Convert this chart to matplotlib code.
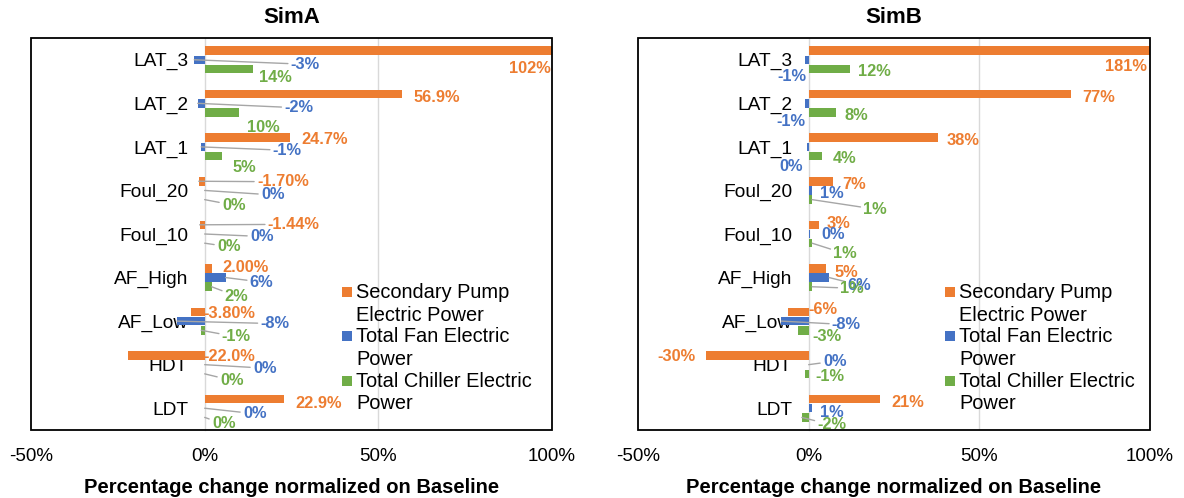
import matplotlib
matplotlib.use("Agg")
import matplotlib.pyplot as plt
from matplotlib.patches import Rectangle
from matplotlib.legend_handler import HandlerBase
import numpy as np

plt.rcParams['font.family'] = ['Liberation Sans', 'DejaVu Sans']

# ---------------- data ----------------
categories = ["LAT_3", "LAT_2", "LAT_1", "Foul_20", "Foul_10",
              "AF_High", "AF_Low", "HDT", "LDT"]
series_names = ["Secondary Pump\nElectric Power",
                "Total Fan Electric\nPower",
                "Total Chiller Electric\nPower"]
x_ticks = [-50, 0, 50, 100]
x_tick_labels = ["-50%", "0%", "50%", "100%"]

simA_pump = [102, 56.9, 24.7, -1.70, -1.44, 2.00, -3.80, -22.0, 22.9]
simA_fan = [-3, -2, -1, 0, 0, 6, -8, 0, 0]
simA_chiller = [14, 10, 5, 0, 0, 2, -1, 0, 0]
simA_pump_labels = ["102%", "56.9%", "24.7%", "-1.70%", "-1.44%",
                    "2.00%", "-3.80%", "-22.0%", "22.9%"]
simA_fan_labels = ["-3%", "-2%", "-1%", "0%", "0%", "6%", "-8%", "0%", "0%"]
simA_chiller_labels = ["14%", "10%", "5%", "0%", "0%", "2%", "-1%", "0%", "0%"]

simB_pump = [181, 77, 38, 7, 3, 5, -6, -30, 21]
simB_fan = [-1, -1, -0.4, 1, 0.3, 6, -8, 0, 1]
simB_chiller = [12, 8, 4, 1, 1, 1, -3, -1, -2]
simB_pump_labels = ["181%", "77%", "38%", "7%", "3%", "5%", "-6%", "-30%", "21%"]
simB_fan_labels = ["-1%", "-1%", "0%", "1%", "0%", "6%", "-8%", "0%", "1%"]
simB_chiller_labels = ["12%", "8%", "4%", "1%", "1%", "1%", "-3%", "-1%", "-2%"]

# ---------------- label placement (pixel offsets from bar end, +dy = down) ----------------
simA_offsets = [
    [(-22, 16), (34, 2), (34, 0), (84, -1), (94, -2), (34, -2), (38, 0), (101, 0), (34, 3)],
    [(111, 3), (101, 3), (86, 2), (68, 3), (57, 1), (36, 3), (98, 1), (60, 2), (50, 4)],
    [(22, 7), (24, 13), (22, 10), (29, 4), (24, 2), (25, 8), (35, 5), (27, 5), (19, 5)],
]
simA_leaders = [
    [0, 0, 0, 1, 1, 0, 0, 0, 0],
    [1, 1, 1, 1, 1, 1, 1, 1, 1],
    [0, 0, 0, 1, 1, 1, 1, 1, 1],
]
simB_offsets = [
    [(-24, 14), (27, 2), (25, 1), (22, 2), (20, -3), (21, 3), (35, -4), (-30, 0), (27, 2)],
    [(-13, 15), (-14, 17), (-16, 18), (20, 2), (23, -1), (30, 6), (65, 2), (26, -5), (20, 3)],
    [(25, 1), (20, 1), (22, 1), (63, 8), (33, 9), (40, 0), (29, 5), (25, 1), (30, 6)],
]
simB_leaders = [
    [0, 0, 0, 0, 0, 0, 0, 0, 0],
    [0, 0, 0, 0, 0, 1, 1, 1, 0],
    [0, 0, 0, 1, 1, 1, 0, 0, 1],
]

colors = ["#ED7D31", "#4472C4", "#70AD47"]
XMIN, XMAX = -50, 100
BAR_H = 0.195
BAR_STEP = 0.211
LEG_FS = 14.4
LEG_LS = 1.24
LINE_PT = 22 * 0.72


class SquareFirstLine(HandlerBase):
    def __init__(self, color, yc):
        super().__init__()
        self.color = color
        self.yc = yc

    def create_artists(self, legend, orig_handle, xdescent, ydescent,
                       width, height, fontsize, trans):
        size = 7.2
        r = Rectangle((-xdescent, self.yc - size / 2), size, size,
                      facecolor=self.color, edgecolor='none', transform=trans)
        return [r]


fig = plt.figure(figsize=(11.84, 4.98), dpi=100)
W, H = 1184, 498
axA = fig.add_axes([31 / W, (H - 430) / H, 521 / W, 392 / H])
axB = fig.add_axes([638 / W, (H - 430) / H, 512 / W, 392 / H])


def draw(ax, title, vals, labels, offsets, leaders, leg_x):
    for sp in ['top', 'right', 'bottom']:
        ax.spines[sp].set_visible(False)
    ax.spines['left'].set_position(('data', 0))
    ax.spines['left'].set_color('#D9D9D9')
    ax.spines['left'].set_linewidth(1.0)
    ax.spines['left'].set_zorder(1)

    ypos = np.arange(len(categories))
    shifts = [-BAR_STEP, 0, BAR_STEP]
    handles = []
    for s in range(3):
        b = ax.barh(ypos + shifts[s], vals[s], height=BAR_H, color=colors[s],
                    zorder=2, label=series_names[s])
        handles.append(b)
        for i in range(len(categories)):
            xv = min(max(vals[s][i], XMIN), XMAX)
            yv = ypos[i] + shifts[s]
            dx, dy = offsets[s][i]
            arrow = None
            if leaders[s][i]:
                arrow = dict(arrowstyle='-', color='#A6A6A6', lw=1,
                             shrinkA=0, shrinkB=0)
            ax.annotate(labels[s][i], xy=(xv, yv), xytext=(dx, -dy),
                        textcoords='offset pixels', ha='center',
                        va='center_baseline', fontsize=11.8,
                        fontweight='bold', color=colors[s],
                        arrowprops=arrow, annotation_clip=False, zorder=4)
    ax.set_xlim(XMIN, XMAX)
    ax.set_ylim(len(categories) - 0.5, -0.5)
    ax.set_yticks(ypos)
    ax.set_yticklabels(categories)
    ax.set_xticks(x_ticks)
    ax.set_xticklabels(x_tick_labels)
    ax.tick_params(axis='y', length=0, pad=12, labelsize=13.8, labelcolor='black')
    ax.tick_params(axis='x', length=0, pad=13, labelsize=13.5, labelcolor='black')
    ax.axvline(50, color='#D9D9D9', lw=1.0, zorder=1)
    ax.add_patch(Rectangle((0, 0), 1, 1, transform=ax.transAxes, fill=False,
                           edgecolor='black', lw=1.3, clip_on=False, zorder=5))
    ax.set_title(title, fontsize=16, fontweight='bold', pad=10.8)
    ax.set_xlabel("Percentage change normalized on Baseline", fontsize=14.5,
                  fontweight='bold', labelpad=9)
    yc = 0.5 * LINE_PT + 6.1
    hmap = {h: SquareFirstLine(colors[k], yc) for k, h in enumerate(handles)}
    leg = ax.legend(handles, series_names, handler_map=hmap, loc='upper left',
                    bbox_to_anchor=(leg_x / W, 1 - 283 / H),
                    bbox_transform=fig.transFigure, frameon=False,
                    fontsize=LEG_FS, borderpad=0, borderaxespad=0,
                    handlelength=0.5, handletextpad=0.2, labelspacing=0.14)
    for t in leg.get_texts():
        t.set_linespacing(LEG_LS)
    leg.set_zorder(6)


draw(axA, "SimA", [simA_pump, simA_fan, simA_chiller],
     [simA_pump_labels, simA_fan_labels, simA_chiller_labels],
     simA_offsets, simA_leaders, 342)
draw(axB, "SimB", [simB_pump, simB_fan, simB_chiller],
     [simB_pump_labels, simB_fan_labels, simB_chiller_labels],
     simB_offsets, simB_leaders, 945)

fig.savefig("out.png", dpi=100)
